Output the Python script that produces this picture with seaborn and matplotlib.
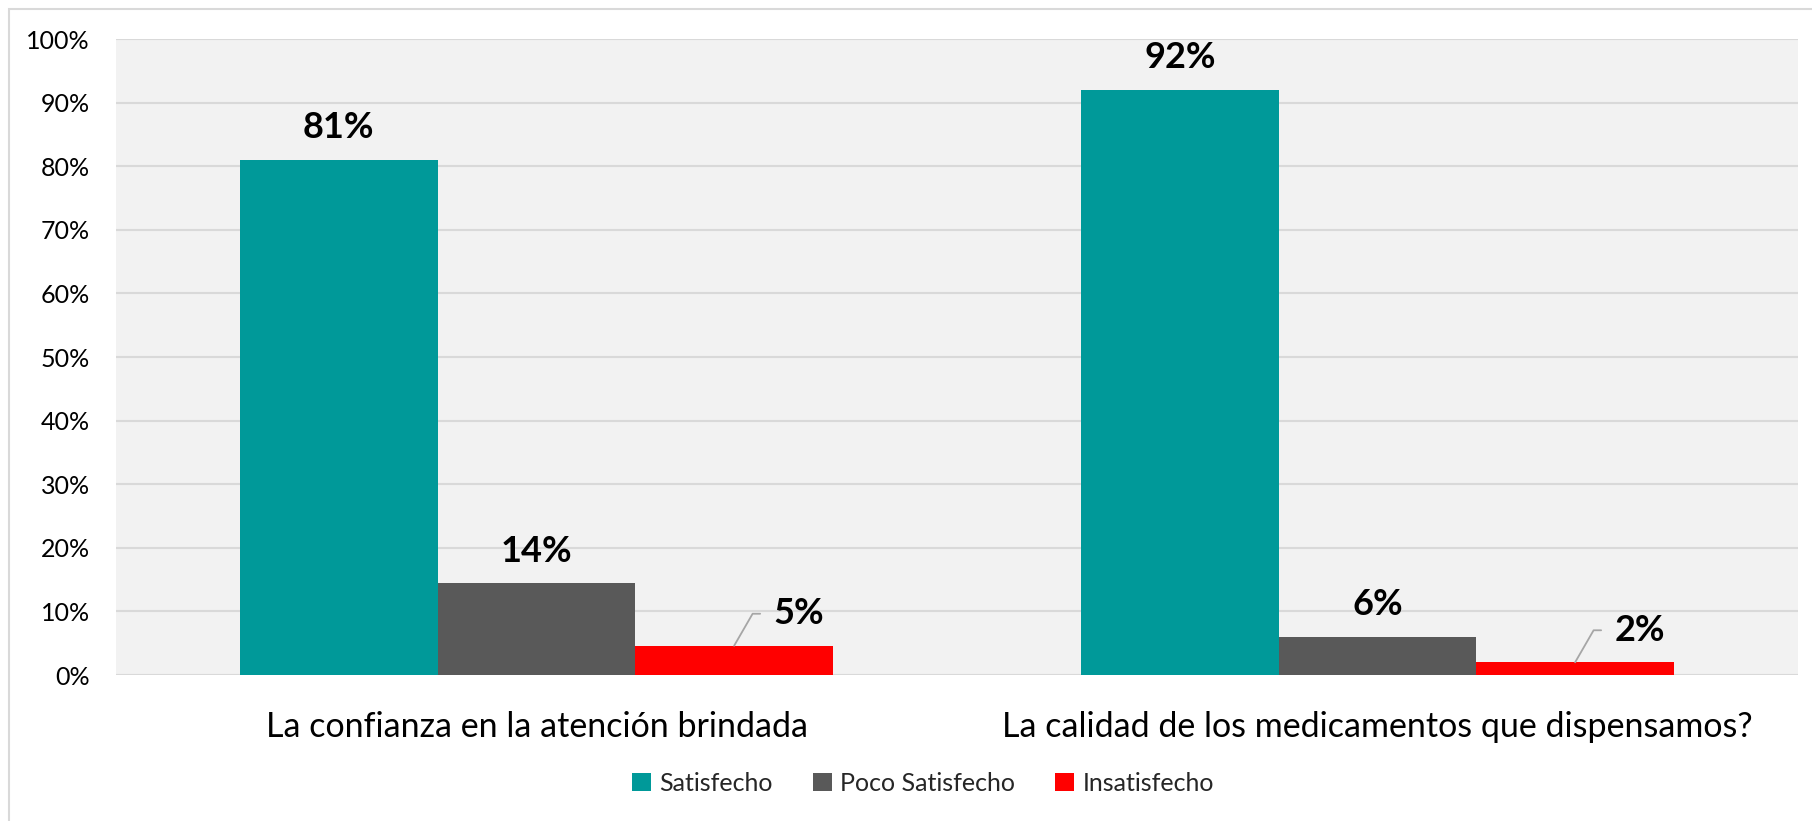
import matplotlib
matplotlib.use("Agg")
import matplotlib.pyplot as plt
import seaborn as sns
import pandas as pd
from matplotlib.patches import Rectangle, Patch

categories = ["La confianza en la atención brindada",
              "La calidad de los medicamentos que dispensamos?"]
series = ["Satisfecho", "Poco Satisfecho", "Insatisfecho"]
satisfecho = [0.81, 0.92]
poco_satisfecho = [0.144, 0.06]
insatisfecho = [0.046, 0.02]
y_ticks = [0.0, 0.1, 0.2, 0.3, 0.4, 0.5, 0.6, 0.7, 0.8, 0.9, 1.0]
colors = ["#009999", "#595959", "#FF0000"]

rows = []
for s, vals in zip(series, [satisfecho, poco_satisfecho, insatisfecho]):
    for c, v in zip(categories, vals):
        rows.append({"cat": c, "serie": s, "val": v})
df = pd.DataFrame(rows)

sns.set_style("white")
plt.rcParams["font.family"] = ["Lato", "DejaVu Sans"]

W, H = 1812, 821
fig = plt.figure(figsize=(W / 100, H / 100), dpi=100)
ax = fig.add_axes([116 / W, 1 - 675 / H, (1798 - 116) / W, (675 - 39) / H])
ax.set_facecolor("#F2F2F2")

sns.barplot(data=df, x="cat", y="val", hue="serie", order=categories,
            hue_order=series, palette=colors, width=0.705, gap=0,
            saturation=1, ax=ax, legend=False, edgecolor="none", linewidth=0)

ax.set_ylim(0, 1.0)
ax.set_xlim(-0.5, 1.5)
ax.set_yticks(y_ticks)
ax.set_yticklabels([f"{int(round(t * 100))}%" for t in y_ticks])
ax.yaxis.grid(True, color="#D9D9D9", linewidth=1.5)
ax.set_axisbelow(True)
for sp in ax.spines.values():
    sp.set_visible(False)
ax.tick_params(axis="y", length=0, pad=19, labelsize=18, labelcolor="black")
ax.tick_params(axis="x", length=0, pad=26, labelsize=24.5, labelcolor="black")
ax.set_xlabel("")
ax.set_ylabel("")

# bar labels
for ci, cont in enumerate(ax.containers):
    for bar in cont:
        h = bar.get_height()
        xc = bar.get_x() + bar.get_width() / 2
        txt = f"{int(round(h * 100))}%"
        if series[ci] == "Insatisfecho":
            ax.annotate(txt, xy=(xc, h), xytext=(39, 32),
                        textcoords="offset pixels", ha="left", va="center",
                        fontsize=26, fontweight="bold", color="black",
                        arrowprops=dict(arrowstyle="-", color="#A6A6A6",
                                        lw=1.3, shrinkA=7, shrinkB=0,
                                        connectionstyle="angle,angleA=180,angleB=60,rad=0"))
        else:
            ax.annotate(txt, xy=(xc, h), xytext=(0, 32),
                        textcoords="offset pixels", ha="center", va="center",
                        fontsize=26, fontweight="bold", color="black")

# legend
handles = [Patch(facecolor=c, edgecolor="none") for c in colors]
fig.legend(handles, series, loc="center", bbox_to_anchor=(923 / W, 1 - 783 / H),
           ncol=3, frameon=False, fontsize=18, handlelength=0.75,
           handleheight=0.75, handletextpad=0.35, columnspacing=1.6,
           borderaxespad=0)

# outer chart border
fig.patches.append(Rectangle((9 / W, -0.05), 1.1, 1.05 - 9 / H,
                             transform=fig.transFigure, fill=False,
                             edgecolor="#D9D9D9", linewidth=1.5))

fig.savefig("out.png", dpi=100, facecolor="white")
